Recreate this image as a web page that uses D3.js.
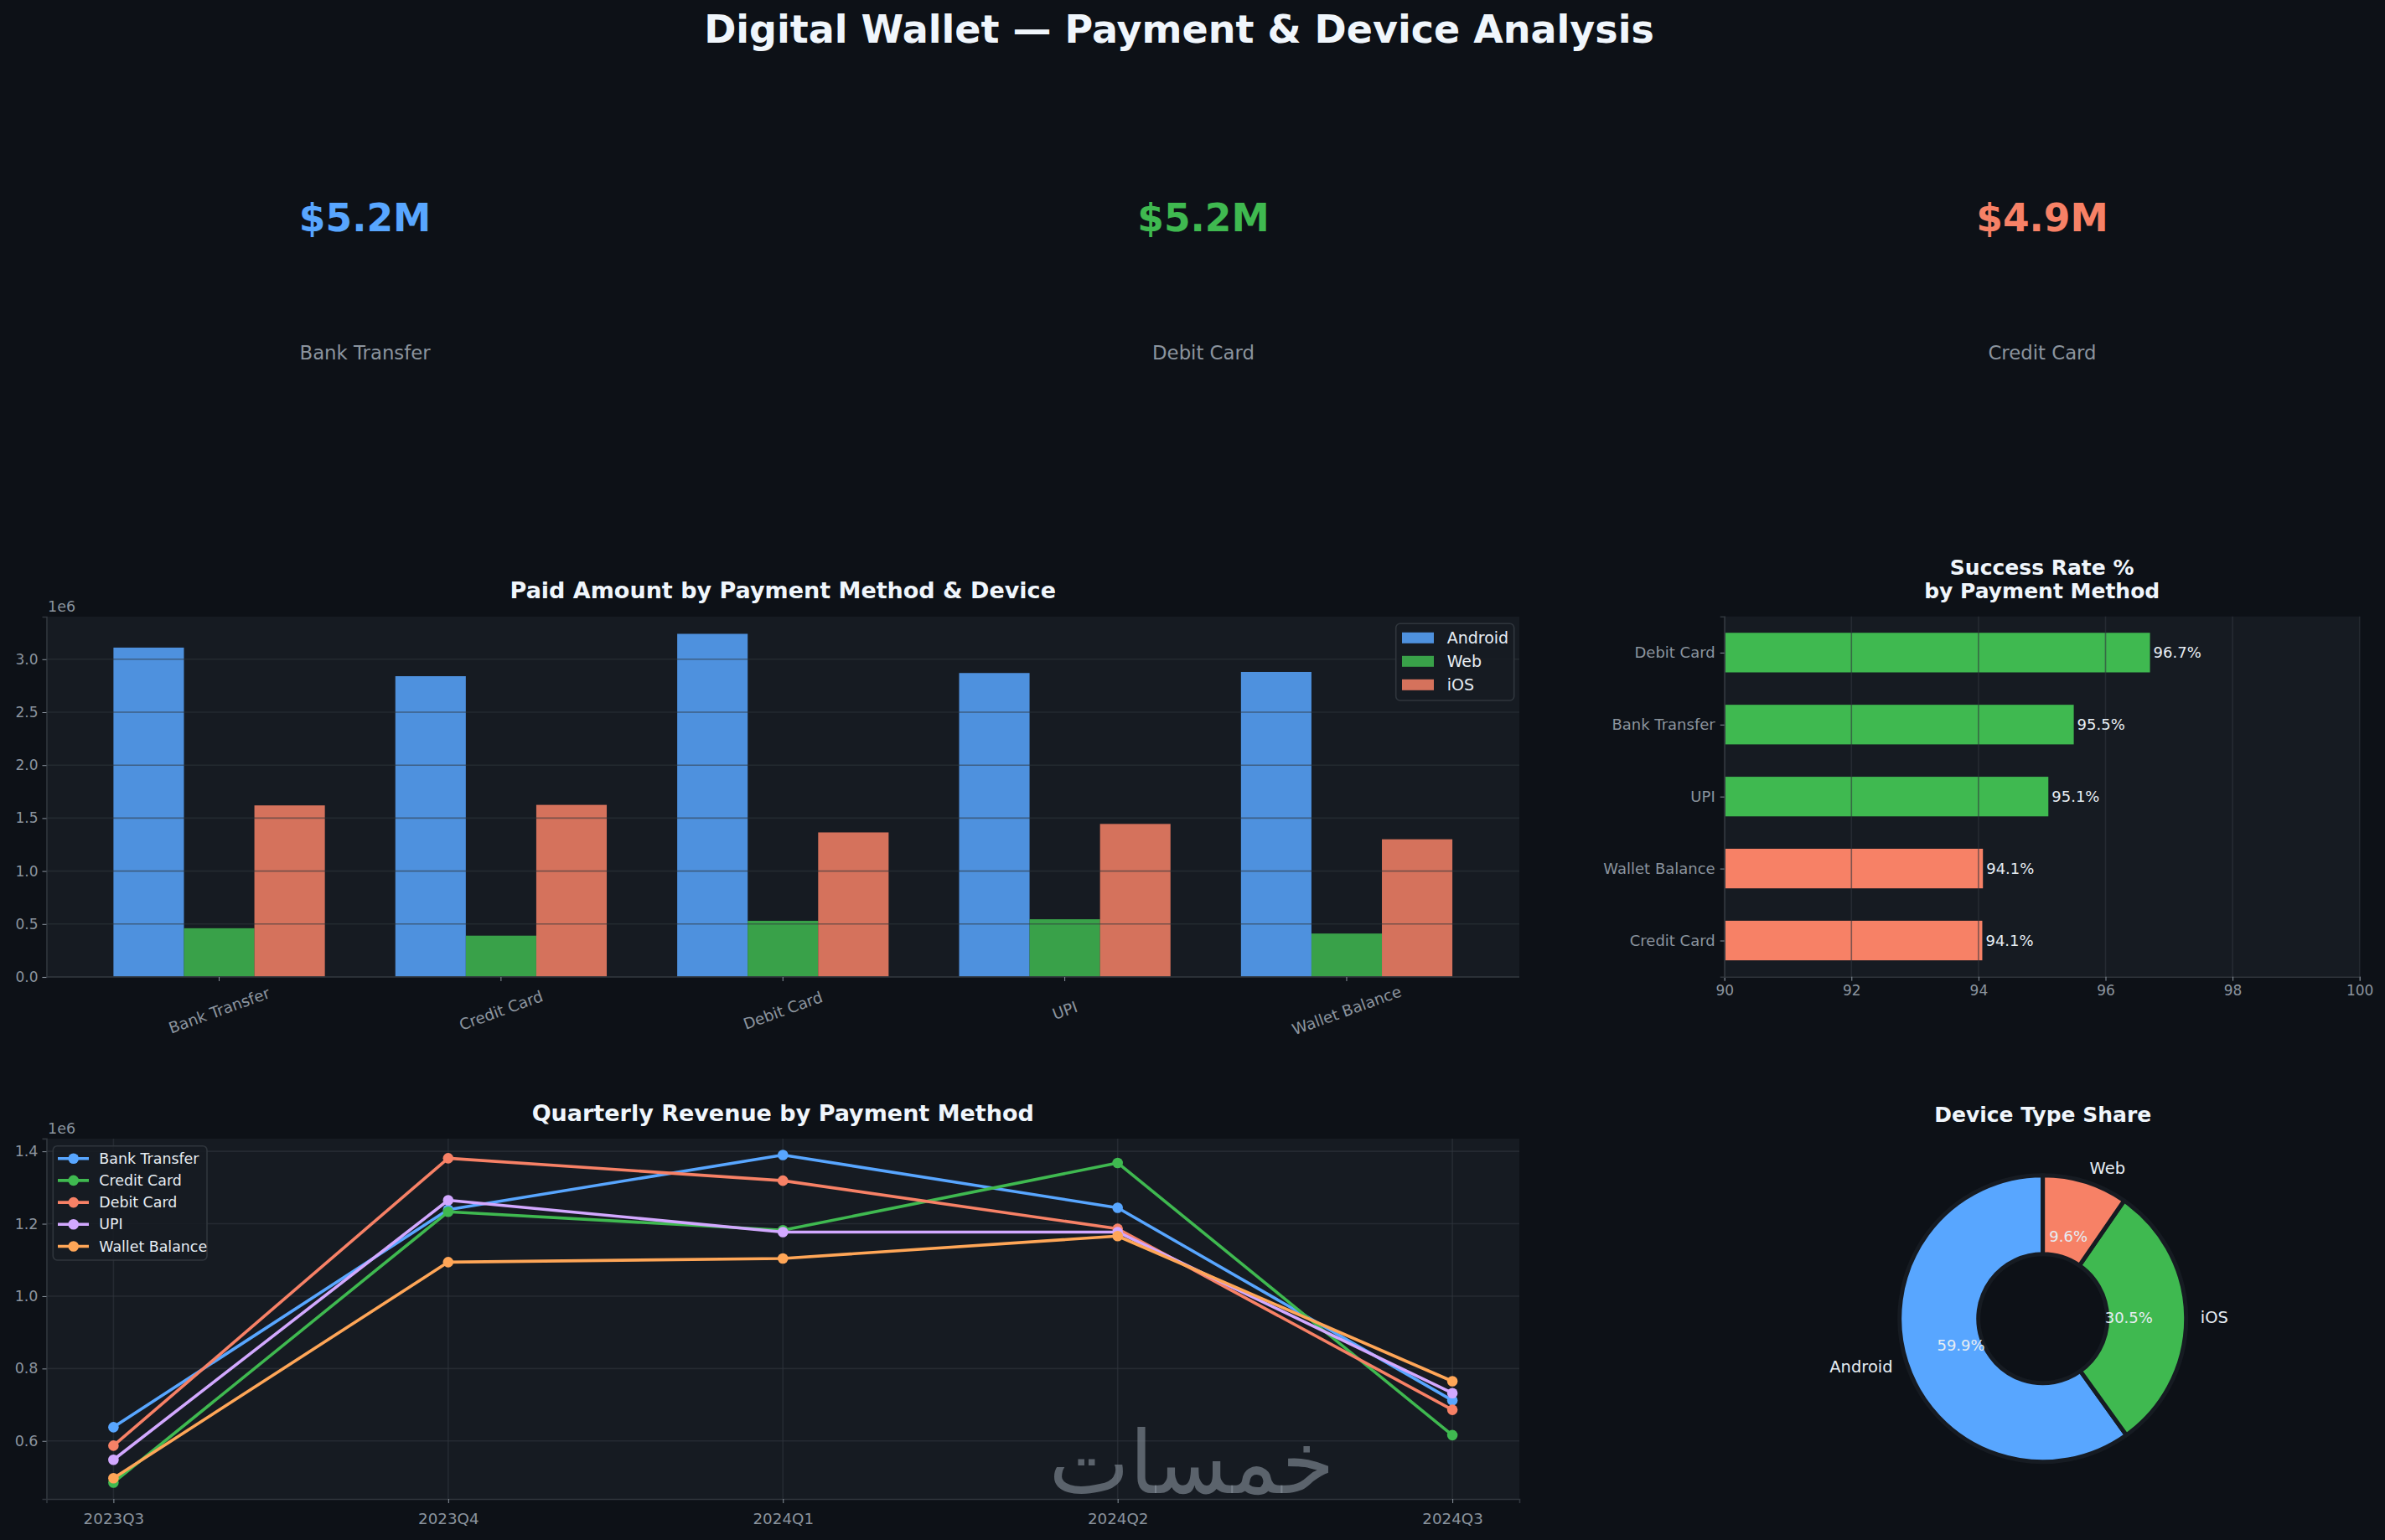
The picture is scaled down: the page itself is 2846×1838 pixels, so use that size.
<!DOCTYPE html>
<html>
<head>
<meta charset="utf-8">
<script src="https://cdn.jsdelivr.net/npm/d3@7"></script>
<style>
  body { margin: 0; background: #0d1117; }
  svg { display: block; font-family: "DejaVu Sans", sans-serif; }
</style>
</head>
<body>
<div id="chart"></div>
<script>
// data
const methods = ['Bank Transfer', 'Credit Card', 'Debit Card', 'UPI', 'Wallet Balance'];
const devices = ['Android', 'Web', 'iOS'];
const paidAndroid = [3.11e6, 2.84e6, 3.24e6, 2.87e6, 2.88e6];
const paidWeb = [0.46e6, 0.39e6, 0.53e6, 0.545e6, 0.41e6];
const paidIOS = [1.62e6, 1.625e6, 1.365e6, 1.445e6, 1.30e6];

const kpiValues = ['$5.2M', '$5.2M', '$4.9M'];
const kpiLabels = ['Bank Transfer', 'Debit Card', 'Credit Card'];

const successMethods = ['Credit Card', 'Wallet Balance', 'UPI', 'Bank Transfer', 'Debit Card'];
const successRates = [94.06, 94.07, 95.1, 95.5, 96.7];

const quarters = ['2023Q3', '2023Q4', '2024Q1', '2024Q2', '2024Q3'];
const revBank = [0.638e6, 1.239e6, 1.390e6, 1.244e6, 0.712e6];
const revCredit = [0.485e6, 1.233e6, 1.182e6, 1.368e6, 0.616e6];
const revDebit = [0.587e6, 1.381e6, 1.319e6, 1.186e6, 0.686e6];
const revUPI = [0.548e6, 1.265e6, 1.177e6, 1.177e6, 0.732e6];
const revWallet = [0.497e6, 1.094e6, 1.104e6, 1.166e6, 0.765e6];

const shareDevices = ['Android', 'iOS', 'Web'];
const shareValues = [59.9, 30.5, 9.6];

// look
const W = 2846, H = 1838;
const bg = '#0d1117', panel = '#161b22', edge = '#30363d';
const txt = '#e6edf3', muted = '#8b949e';
const blue = '#58a6ff', green = '#3fb950', salmon = '#f78166', purple = '#d2a8ff', orange = '#ffa657';

const svg = d3.select('#chart').append('svg')
  .attr('width', W).attr('height', H);
svg.append('rect').attr('width', W).attr('height', H).attr('fill', bg);

svg.append('text')
  .attr('x', 1407).attr('y', 51)
  .attr('text-anchor', 'middle')
  .attr('font-size', 46).attr('font-weight', 'bold')
  .attr('fill', '#f0f6fc')
  .text('Digital Wallet — Payment & Device Analysis');

// KPI cards
const kpiX = [435.6, 1436, 2437];
const kpiColors = [blue, green, salmon];
kpiValues.forEach((v, i) => {
  svg.append('text').attr('x', kpiX[i]).attr('y', 276)
    .attr('text-anchor', 'middle').attr('font-size', 45.5).attr('font-weight', 'bold')
    .attr('fill', kpiColors[i]).text(v);
  svg.append('text').attr('x', kpiX[i]).attr('y', 429)
    .attr('text-anchor', 'middle').attr('font-size', 22.8)
    .attr('fill', muted).text(kpiLabels[i]);
});

function axisTitle(lines, cx, y, size) {
  lines.forEach((l, i) => {
    svg.append('text').attr('x', cx).attr('y', y + i * 28)
      .attr('text-anchor', 'middle').attr('font-size', size).attr('font-weight', 'bold')
      .attr('fill', '#f0f6fc').text(l);
  });
}

function panelRect(g, x0, x1, y0, y1) {
  g.append('rect').attr('x', x0).attr('y', y0)
    .attr('width', x1 - x0).attr('height', y1 - y0).attr('fill', panel);
}

// ---------- grouped bars
{
  const L = 55.5, R = 1813, T = 736, B = 1166;
  const g = svg.append('g');
  panelRect(g, L, R, T, B);
  const x = d3.scaleLinear().domain([-0.6125, 4.6125]).range([L, R]);
  const maxV = d3.max([...paidAndroid, ...paidWeb, ...paidIOS]) * 1.05;
  const y = d3.scaleLinear().domain([0, maxV]).range([B, T]);
  const series = [paidAndroid, paidWeb, paidIOS];
  const colors = [blue, green, salmon];
  const bw = 0.25;

  series.forEach((s, j) => {
    g.selectAll(null).data(s).enter().append('rect')
      .attr('x', (d, i) => x(i + (j - 1) * bw - bw / 2))
      .attr('width', x(bw) - x(0))
      .attr('y', d => y(d))
      .attr('height', d => B - y(d))
      .attr('fill', colors[j]).attr('fill-opacity', 0.85);
  });

  const ticks = d3.range(0, 3.01, 0.5).map(v => v * 1e6);
  g.selectAll(null).data(ticks).enter().append('line')
    .attr('x1', L).attr('x2', R).attr('y1', d => y(d)).attr('y2', d => y(d))
    .attr('stroke', edge).attr('stroke-opacity', 0.55).attr('stroke-width', 1.6);

  const ya = g.append('g').attr('transform', `translate(${L},0)`)
    .call(d3.axisLeft(y).tickValues(ticks).tickFormat(d => (d / 1e6).toFixed(1)).tickSize(5).tickPadding(5));
  ya.select('.domain').attr('stroke', edge).attr('stroke-width', 1.6);
  ya.selectAll('.tick line').attr('stroke', muted);
  ya.selectAll('.tick text').attr('fill', muted).attr('font-size', 17).attr('font-family', 'DejaVu Sans');

  g.append('line').attr('x1', L).attr('x2', R).attr('y1', B).attr('y2', B)
    .attr('stroke', edge).attr('stroke-width', 1.6);
  methods.forEach((m, i) => {
    g.append('line').attr('x1', x(i)).attr('x2', x(i)).attr('y1', B).attr('y2', B + 5).attr('stroke', muted);
    g.append('text')
      .attr('transform', `translate(${x(i)},1206) rotate(-20)`)
      .attr('text-anchor', 'middle').attr('dominant-baseline', 'central')
      .attr('font-size', 18.5).attr('fill', muted).text(m);
  });

  svg.append('text').attr('x', 57).attr('y', 730).attr('font-size', 17.5).attr('fill', muted).text('1e6');
  axisTitle(['Paid Amount by Payment Method & Device'], (L + R) / 2, 714, 27);

  // legend
  const lg = g.append('g');
  lg.append('rect').attr('x', 1665.7).attr('y', 744.3).attr('width', 141).attr('height', 91.7)
    .attr('rx', 5).attr('fill', panel).attr('fill-opacity', 0.85).attr('stroke', edge).attr('stroke-width', 1.6);
  devices.forEach((d, i) => {
    const cy = 761.3 + i * 28;
    lg.append('rect').attr('x', 1673).attr('y', cy - 6.5).attr('width', 38).attr('height', 13)
      .attr('fill', colors[i]).attr('fill-opacity', 0.85);
    lg.append('text').attr('x', 1726.7).attr('y', cy).attr('dominant-baseline', 'central')
      .attr('font-size', 19).attr('fill', txt).text(d);
  });
}

// ---------- success rate
{
  const L = 2057.7, R = 2815.7, T = 735.7, B = 1165.7;
  const g = svg.append('g');
  panelRect(g, L, R, T, B);
  const x = d3.scaleLinear().domain([90, 100]).range([L, R]);
  const y = d3.scaleLinear().domain([-0.5025, 4.5025]).range([B, T]);
  const bh = 0.55;

  g.selectAll(null).data(successRates).enter().append('rect')
    .attr('x', L)
    .attr('y', (d, i) => y(i + bh / 2))
    .attr('width', d => x(d) - L)
    .attr('height', y(0) - y(bh))
    .attr('fill', d => d >= 95 ? green : salmon);

  g.selectAll(null).data(d3.range(90, 101, 2)).enter().append('line')
    .attr('x1', d => x(d)).attr('x2', d => x(d)).attr('y1', T).attr('y2', B)
    .attr('stroke', edge).attr('stroke-opacity', 0.6).attr('stroke-width', 1.6);

  g.selectAll(null).data(successRates).enter().append('text')
    .attr('x', d => x(d) + 4)
    .attr('y', (d, i) => y(i))
    .attr('dominant-baseline', 'central')
    .attr('font-size', 18).attr('fill', txt)
    .text(d => d.toFixed(1) + '%');

  const xa = g.append('g').attr('transform', `translate(0,${B})`)
    .call(d3.axisBottom(x).tickValues(d3.range(90, 101, 2)).tickSize(5).tickPadding(5));
  xa.select('.domain').attr('stroke', edge).attr('stroke-width', 1.6);
  xa.selectAll('.tick line').attr('stroke', muted);
  xa.selectAll('.tick text').attr('fill', muted).attr('font-size', 17).attr('font-family', 'DejaVu Sans');

  const ya = g.append('g').attr('transform', `translate(${L},0)`)
    .call(d3.axisLeft(y).tickValues(d3.range(5)).tickFormat(i => successMethods[i]).tickSize(5).tickPadding(6));
  ya.select('.domain').attr('stroke', edge).attr('stroke-width', 1.6);
  ya.selectAll('.tick line').attr('stroke', muted);
  ya.selectAll('.tick text').attr('fill', muted).attr('font-size', 18).attr('font-family', 'DejaVu Sans');

  axisTitle(['Success Rate %', 'by Payment Method'], (L + R) / 2, 686.4, 25);
}

// ---------- quarterly lines
{
  const L = 55.5, R = 1813, T = 1358.9, B = 1789;
  const g = svg.append('g');
  panelRect(g, L, R, T, B);
  const series = [revBank, revCredit, revDebit, revUPI, revWallet];
  const names = ['Bank Transfer', 'Credit Card', 'Debit Card', 'UPI', 'Wallet Balance'];
  const colors = [blue, green, salmon, purple, orange];
  const all = series.flat();
  const lo = d3.min(all), hi = d3.max(all), pad = (hi - lo) * 0.05;
  const x = d3.scaleLinear().domain([-0.2, 4.2]).range([L, R]);
  const y = d3.scaleLinear().domain([lo - pad, hi + pad]).range([B, T]);
  const yt = [0.6e6, 0.8e6, 1.0e6, 1.2e6, 1.4e6];

  g.selectAll(null).data(yt).enter().append('line')
    .attr('x1', L).attr('x2', R).attr('y1', d => y(d)).attr('y2', d => y(d))
    .attr('stroke', edge).attr('stroke-opacity', 0.6).attr('stroke-width', 1.6);
  g.selectAll(null).data(d3.range(5)).enter().append('line')
    .attr('x1', d => x(d)).attr('x2', d => x(d)).attr('y1', T).attr('y2', B)
    .attr('stroke', edge).attr('stroke-opacity', 0.6).attr('stroke-width', 1.6);

  const line = d3.line().x((d, i) => x(i)).y(d => y(d));
  series.forEach((s, j) => {
    g.append('path').datum(s).attr('d', line)
      .attr('fill', 'none').attr('stroke', colors[j]).attr('stroke-width', 3.6)
      .attr('stroke-linejoin', 'round');
    g.selectAll(null).data(s).enter().append('circle')
      .attr('cx', (d, i) => x(i)).attr('cy', d => y(d)).attr('r', 6.3)
      .attr('fill', colors[j]);
  });

  const ya = g.append('g').attr('transform', `translate(${L},0)`)
    .call(d3.axisLeft(y).tickValues(yt).tickFormat(d => (d / 1e6).toFixed(1)).tickSize(5).tickPadding(5));
  ya.select('.domain').attr('stroke', edge).attr('stroke-width', 1.6);
  ya.selectAll('.tick line').attr('stroke', muted);
  ya.selectAll('.tick text').attr('fill', muted).attr('font-size', 17.5).attr('font-family', 'DejaVu Sans');

  const xa = g.append('g').attr('transform', `translate(0,${B})`)
    .call(d3.axisBottom(x).tickValues(d3.range(5)).tickFormat(i => quarters[i]).tickSize(5).tickPadding(12));
  xa.select('.domain').attr('stroke', edge).attr('stroke-width', 1.6);
  xa.selectAll('.tick line').attr('stroke', muted);
  xa.selectAll('.tick text').attr('fill', muted).attr('font-size', 18.3).attr('font-family', 'DejaVu Sans');

  // watermark (sits over the bottom of the plot area)
  svg.append('text').attr('x', 1422).attr('y', 1782)
    .attr('text-anchor', 'middle').attr('font-size', 104)
    .attr('textLength', 341).attr('lengthAdjust', 'spacingAndGlyphs')
    .attr('fill', '#8b949e').attr('fill-opacity', 0.6)
    .text('خمسات');

  svg.append('text').attr('x', 57).attr('y', 1353).attr('font-size', 17.5).attr('fill', muted).text('1e6');
  axisTitle(['Quarterly Revenue by Payment Method'], (L + R) / 2, 1338, 27);

  const lg = g.append('g');
  lg.append('rect').attr('x', 63.3).attr('y', 1367.7).attr('width', 183.7).attr('height', 136.3)
    .attr('rx', 5).attr('fill', panel).attr('fill-opacity', 0.85).attr('stroke', edge).attr('stroke-width', 1.6);
  names.forEach((n, i) => {
    const cy = 1382.7 + i * 26.2;
    lg.append('line').attr('x1', 69).attr('x2', 106).attr('y1', cy).attr('y2', cy)
      .attr('stroke', colors[i]).attr('stroke-width', 3.6);
    lg.append('circle').attr('cx', 87.7).attr('cy', cy).attr('r', 6.3).attr('fill', colors[i]);
    lg.append('text').attr('x', 118.3).attr('y', cy).attr('dominant-baseline', 'central')
      .attr('font-size', 17.4).attr('fill', txt).text(n);
  });
}

// ---------- donut
{
  const cx = 2437.7, cy = 1573.8, r = 171;
  const g = svg.append('g').attr('transform', `translate(${cx},${cy})`);
  const colors = { Android: blue, iOS: green, Web: salmon };
  const pie = d3.pie().sort(null).value(d => d.v).startAngle(0).endAngle(-2 * Math.PI);
  const arcs = pie(shareDevices.map((n, i) => ({ n, v: shareValues[i] })));
  const arc = d3.arc().innerRadius(r * 0.45).outerRadius(r);

  g.selectAll(null).data(arcs).enter().append('path')
    .attr('d', arc).attr('fill', d => colors[d.data.n])
    .attr('stroke', panel).attr('stroke-width', 5).attr('stroke-linejoin', 'miter');

  const mid = d => (d.startAngle + d.endAngle) / 2;
  g.selectAll(null).data(arcs).enter().append('text')
    .attr('x', d => Math.sin(mid(d)) * r * 1.1)
    .attr('y', d => -Math.cos(mid(d)) * r * 1.1)
    .attr('text-anchor', d => Math.sin(mid(d)) < 0 ? 'end' : 'start')
    .attr('dominant-baseline', 'central')
    .attr('font-size', 19.5).attr('fill', txt)
    .text(d => d.data.n);

  g.selectAll(null).data(arcs).enter().append('text')
    .attr('x', d => Math.sin(mid(d)) * r * 0.6)
    .attr('y', d => -Math.cos(mid(d)) * r * 0.6)
    .attr('text-anchor', 'middle').attr('dominant-baseline', 'central')
    .attr('font-size', 18).attr('fill', txt)
    .text(d => d.data.v.toFixed(1) + '%');

  axisTitle(['Device Type Share'], cx, 1339, 25);
}
</script>
</body>
</html>
